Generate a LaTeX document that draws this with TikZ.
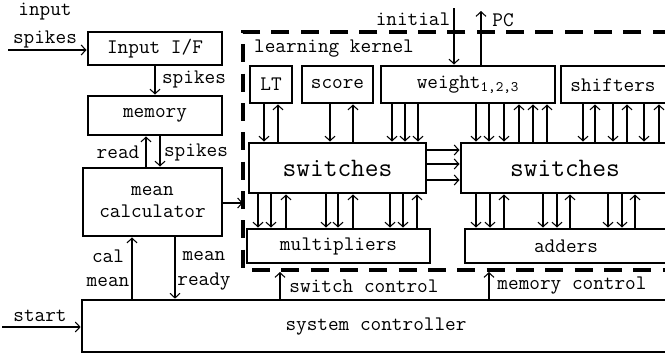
\documentclass[tikz,border=0pt]{standalone}
\usetikzlibrary{arrows.meta,fit}
\newcommand\dfont{\fontsize{15.5}{19}\selectfont\ttfamily}
\newcommand\bfont{\fontsize{20}{22}\selectfont\ttfamily}
\newcommand\dnar[3]{\draw[conn,tipend] (#1.south -| #3,0) -- (#2.north -| #3,0);}
\newcommand\upar[3]{\draw[conn,tipstart] (#1.south -| #3,0) -- (#2.north -| #3,0);}
\begin{document}
\begin{tikzpicture}[x=0.75pt,y=-0.75pt,
  box/.style={draw,line width=2.2pt,inner sep=0pt},
  lbl/.style={font=\dfont,inner sep=0pt,align=center},
  conn/.style={line width=0.8pt},
  tipend/.style={-{Straight Barb[length=3.5pt,width=7.5pt]}},
  tipstart/.style={{Straight Barb[length=3.5pt,width=7.5pt]}-},
  kern/.style={line width=2.4pt,dash pattern=on 13.5pt off 8.5pt}]
\useasboundingbox (0,0) rectangle (665,358);
\clip (0,0) rectangle (665,358);
% left column
\node[box,fit={(88,32)(222,65)}] (inif) {};
\node[lbl] (inift) at (inif.center) {Input I/F};
\node[box,fit={(88,96)(222,135)}] (mem) {};
\node[lbl] (memt) at (mem.center) {memory};
\node[box,fit={(83,168)(222,236)}] (mcal) {};
\node[lbl] (mcalt) at (mcal.center) {mean\\[-2pt]calculator};
\node[box,line width=2pt,fit={(82,300)(690,352)}] (sys) {};
\node[lbl] (systxt) at (376,327) {system controller};
% learning kernel border
\draw[kern] (700,32) -- (243,32) -- (243,270) -- (700,270);
\node[lbl] (lk) at (334,49) {learning kernel};
% kernel boxes
\node[box,fit={(250,66)(292,103)}] (lt) {};
\node[lbl] (ltt) at (lt.center) {LT};
\node[box,fit={(302,66)(373,103)}] (score) {};
\node[lbl] (scoret) at (score.center) {score};
\node[box,fit={(381,66)(555,103)}] (wt) {};
\node[lbl] (wtt) at (wt.center) {weight\textsubscript{1,2,3}};
\node[box,fit={(561,66)(700,103)}] (shf) {};
\node[lbl] (shftxt) at (613,85) {shifters};
\node[box,fit={(249,143)(426,193)}] (sw1) {};
\node[lbl,font=\bfont] (sw1t) at (sw1.center) {switches};
\node[box,fit={(461,143)(700,193)}] (sw2) {};
\node[lbl,font=\bfont] (sw2txt) at (565,168) {switches};
\node[box,fit={(247,229)(430,263)}] (mul) {};
\node[lbl] (mult) at (mul.center) {multipliers};
\node[box,fit={(465,229)(700,263)}] (add) {};
\node[lbl] (addtxt) at (566,246) {adders};
% left labels and arrows
\node[lbl] (linput) at (45,12) {input};
\node[lbl] (lspk) at (45,39) {spikes};
\coordinate (inspk) at (8,50);
\draw[conn,tipend] (inspk) -- (inspk -| inif.west);
\dnar{inif}{mem}{155}
\node[lbl] (lspk2) at (194,79) {spikes};
\upar{mem}{mcal}{146}
\dnar{mem}{mcal}{160}
\node[lbl] (lread) at (118,152) {read};
\node[lbl] (lspk3) at (196,152) {spikes};
\upar{mcal}{sys}{132}
\dnar{mcal}{sys}{175}
\node[lbl] (lcal) at (108,256) {cal};
\node[lbl] (lmean) at (108,282) {mean};
\node[lbl] (lmean2) at (204,256) {mean};
\node[lbl] (lready) at (204,282) {ready};
\coordinate (stin) at (2,327);
\draw[conn,tipend] (stin) -- (stin -| sys.west);
\node[lbl] (lstart) at (40,316) {start};
\coordinate (kin) at (243,203);
\draw[conn,tipend] (mcal.east |- kin) -- (kin);
% top
\node[lbl] (linit) at (413,19) {initial};
\coordinate (initop) at (454,8);
\draw[conn,tipend] (initop) -- (initop |- wt.north);
\coordinate (pctop) at (481,11);
\draw[conn,tipend] (pctop |- wt.north) -- (pctop);
\node[lbl] (lpc) at (503,20) {PC};
% top row to switches
\dnar{lt}{sw1}{264}
\upar{lt}{sw1}{278}
\dnar{score}{sw1}{330}
\upar{score}{sw1}{353}
\dnar{wt}{sw1}{392}
\dnar{wt}{sw1}{405}
\dnar{wt}{sw1}{418}
\dnar{wt}{sw2}{476}
\dnar{wt}{sw2}{489}
\dnar{wt}{sw2}{504}
\upar{wt}{sw2}{519}
\upar{wt}{sw2}{533}
\upar{wt}{sw2}{547}
\dnar{shf}{sw2}{583}
\upar{shf}{sw2}{595}
\dnar{shf}{sw2}{613}
\upar{shf}{sw2}{627}
\dnar{shf}{sw2}{644}
\upar{shf}{sw2}{659}
% switches to switches
\foreach \yy in {150,164,180}{\draw[conn,tipend] (sw1.east |- 0,\yy) -- (sw2.west |- 0,\yy);}
% switches to multipliers / adders
\foreach \xx in {258,271,326,338,390,403}{\dnar{sw1}{mul}{\xx}}
\foreach \xx in {286,353,417}{\upar{sw1}{mul}{\xx}}
\foreach \xx in {476,490,543,557,608,622}{\dnar{sw2}{add}{\xx}}
\foreach \xx in {504,570,635}{\upar{sw2}{add}{\xx}}
% controls
\coordinate (swc) at (280,272);
\draw[conn,tipend] (swc |- sys.north) -- (swc);
\node[lbl] (lswc) at (364,286) {switch control};
\coordinate (mmc) at (489,272);
\draw[conn,tipend] (mmc |- sys.north) -- (mmc);
\node[lbl] (lmmc) at (572,286) {memory control};
\end{tikzpicture}
\end{document}
